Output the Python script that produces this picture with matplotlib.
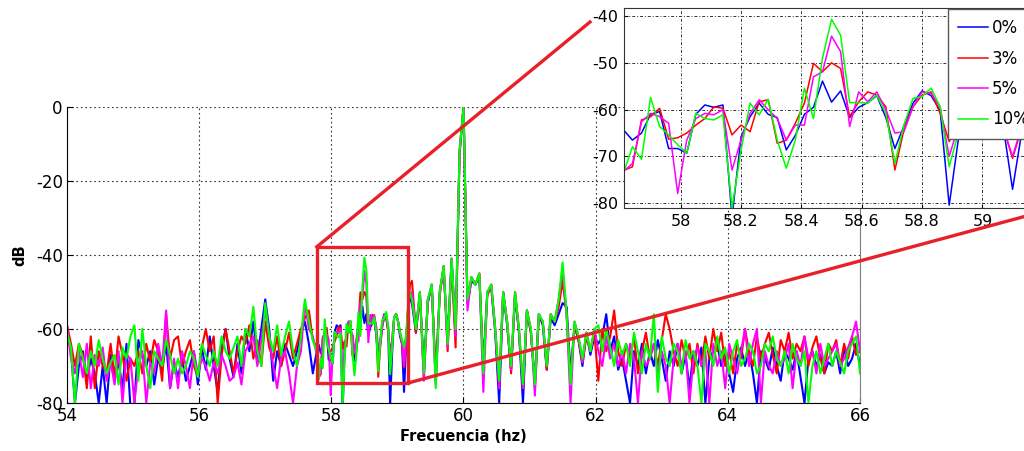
import matplotlib.pyplot as plt
import numpy as np
from matplotlib.lines import Line2D
from matplotlib.patches import Rectangle

plt.rcParams["axes.unicode_minus"] = False

labels = ["0%", "3%", "5%", "10%"]
colors = ["#0000ff", "#ff0000", "#ff00ff", "#00ff00"]

# frequency grids (Hz): coarse outside the zoom window, fine inside it
lo_start, lo_step = 54.0, 0.06
mid_start, mid_step = 57.81, 0.03
hi_start, hi_step = 59.22, 0.06

# 54.00 - 57.78 Hz
blue_lo = [-61, -66, -80, -70, -66, -74, -68, -72, -80, -70,
           -80, -67, -73, -69, -76, -64, -81, -80, -63, -67,
           -70, -66, -75, -68, -71, -64, -76, -69, -73, -68,
           -74, -70, -66, -75, -65, -71, -62, -70, -77, -65,
           -60, -68, -73, -64, -72, -60, -66, -58, -68, -60,
           -52, -60, -74, -66, -70, -64, -67, -70, -66, -61,
           -58, -64, -72, -66]
red_lo = [-59, -64, -70, -64, -67, -76, -62, -76, -66, -70,
          -72, -64, -73, -62, -67, -74, -68, -70, -66, -72,
          -64, -69, -63, -66, -74, -56, -68, -63, -62, -70,
          -66, -63, -70, -73, -65, -60, -66, -62, -80, -67,
          -60, -66, -72, -66, -62, -64, -59, -68, -63, -70,
          -58, -65, -68, -62, -70, -66, -61, -68, -64, -60,
          -57, -55, -63, -65]
magenta_lo = [-59, -68, -72, -66, -73, -64, -76, -67, -70, -65,
              -74, -69, -75, -66, -80, -67, -68, -80, -70, -66,
              -80, -69, -72, -64, -70, -55, -76, -68, -76, -66,
              -70, -76, -66, -72, -68, -70, -74, -69, -72, -67,
              -70, -74, -73, -69, -75, -66, -64, -62, -70, -63,
              -55, -62, -70, -76, -68, -66, -72, -80, -70, -66,
              -53, -60, -62, -67]
green_lo = [-61, -65, -80, -64, -68, -72, -66, -70, -63, -68,
            -72, -69, -67, -75, -65, -68, -62, -59, -74, -60,
            -70, -76, -66, -68, -70, -63, -67, -72, -68, -72,
            -70, -66, -68, -73, -64, -67, -70, -66, -70, -62,
            -66, -68, -65, -62, -70, -60, -62, -54, -66, -70,
            -53, -62, -66, -59, -67, -62, -58, -66, -70, -62,
            -52, -58, -63, -66]

# 57.81 - 59.19 Hz (zoomed part)
blue_mid = [-64.3, -66.5, -65, -61, -60.4, -68.3, -68.3, -69.3, -61, -59,
            -59.5, -59, -83, -65.8, -61.5, -58.6, -61, -61.7, -68.6, -65.5,
            -61, -59.5, -53.9, -58.4, -56, -61.7, -59.5, -58.5, -57, -61.7,
            -68.3, -63.5, -58.6, -56, -57, -60.2, -80.4, -66.5, -57, -56,
            -58, -62, -64, -77, -65, -56, -51]
red_mid = [-73, -72.2, -62.2, -61.5, -59.7, -66.3, -66, -65, -63.3, -61.9,
           -59.4, -59.7, -65.4, -63.3, -64.7, -58.3, -57.9, -67.2, -66.5, -62.9,
           -58.6, -50.1, -51.9, -50, -51.2, -61.5, -58.3, -56.2, -56.9, -59.4,
           -72.9, -64.3, -59.4, -56.9, -56.2, -60.8, -66.8, -63, -57, -56,
           -58, -61, -64, -70.4, -64, -55, -48]
magenta_mid = [-73.2, -71.5, -62.6, -60.8, -61.5, -62.9, -77.9, -66.5, -61.9, -60.8,
               -61.1, -60, -72.9, -66.5, -60.8, -57.9, -60, -61.9, -66.5, -63.3,
               -63.3, -53, -51.9, -44.3, -47.6, -63.6, -56.2, -58.3, -56.2, -60,
               -65, -64.7, -59.4, -56.2, -56.5, -59.4, -70, -63.6, -57, -56,
               -58, -61, -64, -70, -63.6, -55, -50]
green_mid = [-73.6, -67.9, -70.6, -57.4, -63.6, -65.4, -67.5, -69.3, -60.8, -61.9,
             -62.2, -61.1, -81, -68.6, -58.6, -61.1, -57.8, -66.5, -72.5, -66.5,
             -55.4, -61.9, -49, -40.7, -44.1, -58.5, -58.5, -58.6, -56.9, -60.8,
             -71.5, -63.3, -57.6, -57.2, -55.4, -59.4, -72.2, -65, -57, -56,
             -58, -61, -63, -64.7, -62, -54, -50]

# 59.22 - 66.00 Hz
blue_hi = [-53, -61, -51, -70, -53, -48, -74, -50, -44, -63,
           -41, -61, -13, 0, -53, -47, -48, -46, -70, -50,
           -49, -61, -80, -50, -59, -71, -51, -61, -80, -55,
           -61, -74, -56, -59, -71, -57, -59, -56, -53, -54,
           -72, -59, -63, -70, -61, -67, -62,
           -64, -62, -56, -66, -62, -71, -68, -74, -80, -66,
           -70, -64, -72, -66, -70, -63, -68, -74, -66, -70,
           -64, -72, -67, -76, -66, -70, -65, -80, -68, -66,
           -64, -70, -67, -72, -77, -68, -65, -70, -66, -72,
           -80, -66, -68, -71, -65, -70, -74, -66, -68, -71,
           -66, -73, -80, -68, -66, -70, -67, -72, -69, -70,
           -66, -72, -65, -70, -68, -64, -70]
red_hi = [-47, -61, -50, -73, -52, -49, -72, -51, -43, -66,
          -42, -65, -12, 0, -52, -46, -48, -45, -71, -51,
          -48, -60, -75, -50, -58, -72, -50, -61, -76, -55,
          -61, -75, -57, -58, -71, -56, -58, -54, -47, -56,
          -74, -59, -63, -69, -62, -66, -61,
          -74, -60, -66, -62, -55, -66, -70, -64, -68, -62,
          -72, -66, -61, -68, -64, -70, -63, -56, -60, -66,
          -70, -63, -68, -64, -72, -64, -70, -62, -68, -60,
          -66, -61, -70, -66, -72, -64, -68, -60, -66, -70,
          -62, -68, -64, -61, -67, -72, -63, -66, -61, -68,
          -64, -66, -62, -70, -65, -62, -68, -72, -64, -66,
          -63, -70, -64, -68, -62, -67, -66]
magenta_hi = [-50, -60, -50, -74, -52, -48, -75, -50, -43, -65,
              -41, -62, -12, 0, -55, -46, -48, -45, -77, -50,
              -48, -60, -76, -50, -58, -71, -50, -60, -76, -55,
              -60, -78, -56, -58, -70, -56, -58, -52, -44, -56,
              -80, -58, -62, -69, -61, -66, -60,
              -66, -70, -62, -68, -64, -70, -66, -72, -64, -68,
              -80, -66, -70, -68, -64, -72, -66, -70, -80, -68,
              -64, -70, -66, -80, -68, -65, -70, -66, -80, -64,
              -70, -66, -76, -64, -68, -72, -66, -60, -70, -64,
              -60, -80, -66, -70, -72, -66, -70, -68, -64, -76,
              -66, -70, -62, -68, -66, -72, -64, -70, -68, -66,
              -64, -70, -68, -65, -62, -58, -66]
green_hi = [-52, -60, -50, -72, -52, -48, -76, -50, -43, -64,
            -41, -60, -12, 0, -52, -46, -48, -45, -72, -50,
            -48, -60, -74, -50, -58, -70, -50, -60, -75, -55,
            -60, -75, -56, -58, -70, -56, -58, -52, -42, -56,
            -75, -58, -62, -68, -61, -66, -60,
            -59, -66, -60, -65, -70, -63, -67, -64, -70, -61,
            -66, -72, -64, -68, -56, -77, -62, -68, -70, -64,
            -66, -72, -63, -68, -66, -70, -80, -64, -66, -70,
            -62, -68, -65, -72, -66, -63, -70, -68, -64, -66,
            -72, -70, -64, -66, -62, -68, -70, -66, -72, -64,
            -68, -70, -66, -80, -70, -66, -72, -68, -64, -70,
            -66, -69, -72, -66, -64, -62, -72]

series_lo = [blue_lo, red_lo, magenta_lo, green_lo]
series_mid = [blue_mid, red_mid, magenta_mid, green_mid]
series_hi = [blue_hi, red_hi, magenta_hi, green_hi]


def freq_grid(start, step, vals):
    return start + step * np.arange(len(vals))


red = "#e8202a"

fig = plt.figure(figsize=(10.24, 4.51), dpi=100)

# main spectrum
ax = fig.add_axes([67 / 1024, 48 / 451, 793 / 1024, 296 / 451])
for lo, mid, hi, c in zip(series_lo, series_mid, series_hi, colors):
    f = np.concatenate([freq_grid(lo_start, lo_step, lo),
                        freq_grid(mid_start, mid_step, mid),
                        freq_grid(hi_start, hi_step, hi)])
    v = np.concatenate([lo, mid, hi])
    ax.plot(f, v, color=c, lw=1.5)
ax.set_xlim(54, 66)
ax.set_ylim(-80, 0)
ax.set_xticks(np.arange(54, 67, 2))
ax.set_yticks(np.arange(-80, 1, 20))
ax.grid(True, color="0.2", linestyle=(0, (1.5, 2.5)), linewidth=0.8)
ax.set_axisbelow(True)
ax.tick_params(direction="in", length=4, labelsize=12, pad=3)
ax.spines["top"].set_visible(False)
ax.spines["right"].set_color("0.5")
ax.set_xlabel("Frecuencia (hz)", fontsize=10.5, fontweight="bold", labelpad=3)
ax.set_ylabel("dB", fontsize=10.5, fontweight="bold", labelpad=6)

# zoom inset
axin = fig.add_axes([624 / 1024, 242.7 / 451, 416 / 1024, 200 / 451])
for mid, c, lab in zip(series_mid, colors, labels):
    axin.plot(freq_grid(mid_start, mid_step, mid), mid, color=c, lw=1.1, label=lab)
axin.set_xlim(57.812, 59.191)
axin.set_ylim(-81.07, -38.35)
axin.set_xticks([58, 58.2, 58.4, 58.6, 58.8, 59])
axin.set_xticklabels(["58", "58.2", "58.4", "58.6", "58.8", "59"])
axin.set_yticks(np.arange(-80, -39, 10))
axin.grid(True, color="0.2", linestyle=(0, (3, 2, 1, 2)), linewidth=0.7)
axin.set_axisbelow(True)
axin.tick_params(direction="in", length=3, labelsize=11.5, pad=4)
for s in axin.spines.values():
    s.set_color("0.2")
    s.set_linewidth(0.8)
leg = axin.legend(loc="upper left", bbox_to_anchor=(948 / 1024, 442 / 451),
                  bbox_transform=fig.transFigure, fancybox=False, framealpha=1,
                  edgecolor="0.35", fontsize=12, handlelength=1.8,
                  handletextpad=0.25, labelspacing=0.75, borderpad=0.6,
                  borderaxespad=0)
leg.get_frame().set_linewidth(1.0)

# zoom box and connector lines
box_x0, box_x1 = 57.78, 59.16
box_y0, box_y1 = -74.6, -37.8
ax.add_patch(Rectangle((box_x0, box_y0), box_x1 - box_x0, box_y1 - box_y0,
                       fill=False, ec=red, lw=2.4, zorder=5, clip_on=False))
to_fig = fig.transFigure.inverted()
p_tl = to_fig.transform(ax.transData.transform((box_x0, box_y1)))
p_br = to_fig.transform(ax.transData.transform((box_x1, box_y0)))
fig.add_artist(Line2D([p_tl[0], 590 / 1024], [p_tl[1], 1 - 22 / 451], color=red, lw=2.4))
fig.add_artist(Line2D([p_br[0], 1030 / 1024], [p_br[1], 1 - 215 / 451], color=red, lw=2.4))

plt.savefig("out.png", dpi=100)
